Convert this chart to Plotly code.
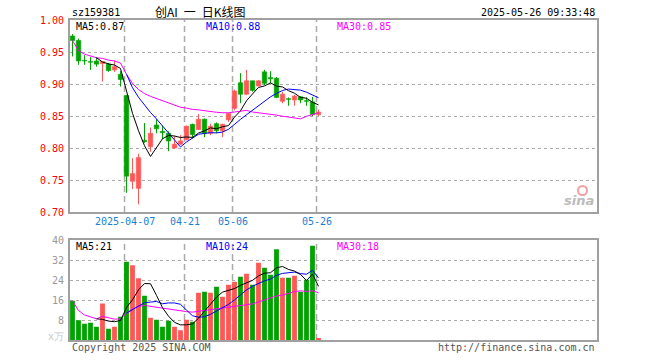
import plotly.graph_objects as go

# ---------------- data ----------------
dates = ["03-24", "03-25", "03-26", "03-27", "03-28", "03-31", "04-01", "04-02", "04-03",
         "04-07", "04-08", "04-09", "04-10", "04-11", "04-14", "04-15", "04-16", "04-17", "04-18",
         "04-21", "04-22", "04-23", "04-24", "04-25", "04-28", "04-29", "04-30",
         "05-06", "05-07", "05-08", "05-09", "05-12", "05-13", "05-14", "05-15", "05-16",
         "05-19", "05-20", "05-21", "05-22", "05-23", "05-26"]
opens = [0.975, 0.968, 0.937, 0.935, 0.936, 0.932, 0.931, 0.922, 0.915,
         0.882, 0.748, 0.737, 0.812, 0.802, 0.836, 0.826, 0.823, 0.800, 0.806,
         0.813, 0.837, 0.829, 0.845, 0.823, 0.838, 0.827, 0.844,
         0.862, 0.902, 0.884, 0.905, 0.897, 0.919, 0.910, 0.909, 0.873,
         0.877, 0.875, 0.880, 0.874, 0.872, 0.852]
highs = [0.978, 0.971, 0.945, 0.942, 0.942, 0.935, 0.933, 0.937, 0.920,
         0.883, 0.784, 0.791, 0.839, 0.832, 0.845, 0.835, 0.826, 0.819, 0.820,
         0.835, 0.838, 0.853, 0.846, 0.838, 0.840, 0.838, 0.855,
         0.891, 0.917, 0.922, 0.905, 0.906, 0.922, 0.920, 0.911, 0.888,
         0.879, 0.883, 0.881, 0.879, 0.880, 0.860]
lows = [0.943, 0.930, 0.930, 0.922, 0.927, 0.904, 0.919, 0.919, 0.896,
        0.730, 0.736, 0.712, 0.808, 0.794, 0.823, 0.814, 0.795, 0.799, 0.805,
        0.812, 0.815, 0.828, 0.817, 0.820, 0.823, 0.817, 0.841,
        0.859, 0.870, 0.883, 0.888, 0.896, 0.898, 0.901, 0.878, 0.870,
        0.866, 0.866, 0.870, 0.866, 0.850, 0.850]
closes = [0.968, 0.936, 0.936, 0.934, 0.931, 0.935, 0.921, 0.927, 0.907,
          0.756, 0.760, 0.785, 0.810, 0.823, 0.830, 0.824, 0.811, 0.806, 0.811,
          0.834, 0.821, 0.845, 0.823, 0.834, 0.827, 0.837, 0.854,
          0.889, 0.884, 0.905, 0.890, 0.905, 0.901, 0.908, 0.879, 0.884,
          0.876, 0.881, 0.875, 0.873, 0.852, 0.856]
volumes = [15.7, 7.9, 6.5, 6.9, 5.3, 14.6, 4.5, 5.3, 9.3,
           31.3, 29.9, 24.7, 17.7, 8.9, 8.1, 5.3, 7.7, 5.3, 3.9,
           8.1, 7.3, 18.9, 19.3, 18.9, 21.3, 17.3, 22.1,
           23.3, 25.3, 26.5, 22.1, 30.9, 28.9, 26.1, 36.3, 24.9,
           24.9, 25.7, 19.3, 24.1, 37.7, 0.5]
date_ticks = ["2025-04-07", "04-21", "05-06", "05-26"]
date_tick_days = ["04-07", "04-21", "05-06", "05-26"]
price_ticks = [1.00, 0.95, 0.90, 0.85, 0.80, 0.75, 0.70]
vol_ticks = [40, 32, 24, 16, 8]

RED = "#FF5656"
GREEN = "#00A300"
MA_COLORS = {5: "#000000", 10: "#0000FF", 30: "#FF00FF"}
MONO = "DejaVu Sans Mono"

n = len(dates)
xs = list(range(n))
up = [c >= o for o, c in zip(opens, closes)]


def moving_avg(vals, w, expanding=False):
    out = []
    for i in range(len(vals)):
        if i + 1 < w and not expanding:
            out.append(None)
        else:
            seg = vals[max(0, i - w + 1):i + 1]
            out.append(sum(seg) / len(seg))
    return out


fig = go.Figure()

# wicks
for is_up, col in ((True, RED), (False, GREEN)):
    wx, wy = [], []
    for i in xs:
        if up[i] == is_up:
            wx += [i, i, None]
            wy += [lows[i], highs[i], None]
    fig.add_trace(go.Scatter(x=wx, y=wy, mode="lines", line=dict(color=col, width=1),
                             hoverinfo="skip", showlegend=False, xaxis="x", yaxis="y"))

# bodies
for is_up, col in ((True, RED), (False, GREEN)):
    idx = [i for i in xs if up[i] == is_up]
    fig.add_trace(go.Bar(x=idx,
                         y=[max(abs(closes[i] - opens[i]), 0.0008) for i in idx],
                         base=[min(opens[i], closes[i]) for i in idx],
                         width=0.75, marker=dict(color=col, line=dict(color=col, width=0.6)),
                         hoverinfo="skip", showlegend=False, xaxis="x", yaxis="y"))

# price MAs
for w, expd in ((30, True), (10, False), (5, False)):
    fig.add_trace(go.Scatter(x=xs, y=moving_avg(closes, w, expd), mode="lines",
                             line=dict(color=MA_COLORS[w], width=1),
                             hoverinfo="skip", showlegend=False, xaxis="x", yaxis="y"))

# volume bars
for is_up, col in ((True, RED), (False, GREEN)):
    idx = [i for i in xs if up[i] == is_up]
    fig.add_trace(go.Bar(x=idx, y=[volumes[i] for i in idx], width=0.8,
                         marker=dict(color=col, line=dict(width=0)),
                         hoverinfo="skip", showlegend=False, xaxis="x2", yaxis="y2"))

# volume MAs
for w, expd in ((30, True), (10, False), (5, False)):
    fig.add_trace(go.Scatter(x=xs, y=moving_avg(volumes, w, expd), mode="lines",
                             line=dict(color=MA_COLORS[w], width=1),
                             hoverinfo="skip", showlegend=False, xaxis="x2", yaxis="y2"))

W, H = 660, 360
L, R = 70, 597
P_TOP, P_BOT = 20, 212
V_TOP, V_BOT = 240, 340
xr = [-2.5 / 6, (R - 72.5) / 6]
xdom = [L / W, R / W]
pdom = [1 - P_BOT / H, 1 - P_TOP / H]
vdom = [1 - V_BOT / H, 1 - V_TOP / H]

axis_common = dict(showline=True, mirror=True, linecolor="#A0A0A0", linewidth=1.5,
                   zeroline=False, ticks="", showticklabels=False)

fig.update_layout(
    width=W, height=H, margin=dict(l=0, r=0, t=0, b=0),
    paper_bgcolor="white", plot_bgcolor="white", barmode="overlay",
    xaxis=dict(domain=xdom, range=xr, showgrid=False, anchor="y", **axis_common),
    xaxis2=dict(domain=xdom, range=xr, showgrid=False, anchor="y2", **axis_common),
    yaxis=dict(domain=pdom, range=[0.70, 1.00], anchor="x", showgrid=True,
               tickvals=price_ticks[1:-1], gridcolor="#AAAAAA", griddash="dot", gridwidth=1,
               **axis_common),
    yaxis2=dict(domain=vdom, range=[0, 40], anchor="x2", showgrid=True,
                tickvals=vol_ticks[1:], gridcolor="#AAAAAA", griddash="dot", gridwidth=1,
                **axis_common),
)

# vertical dashed date lines
for d in date_tick_days:
    i = dates.index(d)
    for dom in (pdom, vdom):
        fig.add_shape(type="line", xref="x", yref="paper", x0=i - 0.33, x1=i - 0.33,
                      y0=dom[0], y1=dom[1], line=dict(color="#AAAAAA", width=1.5, dash="6px,4px"),
                      layer="below")

ann = []
# date labels
for lab, d in zip(date_ticks, date_tick_days):
    i = dates.index(d)
    ann.append(dict(x=i - 0.33, xref="x", y=1 - 221 / H, yref="paper", text=lab,
                    showarrow=False, font=dict(family=MONO, size=10, color="#1A7FD4"),
                    xanchor="center", yanchor="middle"))
# price labels
for p in price_ticks:
    ann.append(dict(x=66 / W, xref="paper", y=p, yref="y", text=f"{p:.2f}", showarrow=False,
                    font=dict(family=MONO, size=10, color="#FF0000"), xanchor="right",
                    yanchor="middle"))
# volume labels
for v in vol_ticks:
    ann.append(dict(x=66 / W, xref="paper", y=v, yref="y2", text=str(v), showarrow=False,
                    font=dict(family=MONO, size=10, color="#999999"), xanchor="right",
                    yanchor="middle"))
ann.append(dict(x=66 / W, xref="paper", y=1 - 336 / H, yref="paper", text="x万", showarrow=False,
                font=dict(family=MONO, size=10, color="#C8C8C8"), xanchor="right", yanchor="middle"))

# header
ann.append(dict(x=L / W, xref="paper", y=1 - 13 / H, yref="paper", text="sz159381", showarrow=False,
                font=dict(family=MONO, size=10, color="#000000"), xanchor="left", yanchor="middle"))
ann.append(dict(x=200 / W, xref="paper", y=1 - 12 / H, yref="paper",
                text="创AI\u2002一\u2002日K线图",
                showarrow=False, font=dict(family="Noto Sans CJK SC", size=12, color="#000000"),
                xanchor="center", yanchor="middle"))
ann.append(dict(x=R / W, xref="paper", y=1 - 13 / H, yref="paper", text="2025-05-26 09:33:48",
                showarrow=False, font=dict(family=MONO, size=10, color="#000000"),
                xanchor="right", yanchor="middle"))

# MA legends
price_ma_text = ["MA5:0.87", "MA10:0.88", "MA30:0.85"]
vol_ma_text = ["MA5:21", "MA10:24", "MA30:18"]
for txt, xpx, w in zip(price_ma_text, (74, 204, 335), (5, 10, 30)):
    ann.append(dict(x=xpx / W, xref="paper", y=1 - 27 / H, yref="paper", text=txt, showarrow=False,
                    font=dict(family=MONO, size=10, color=MA_COLORS[w]), xanchor="left",
                    yanchor="middle"))
for txt, xpx, w in zip(vol_ma_text, (74, 204, 335), (5, 10, 30)):
    ann.append(dict(x=xpx / W, xref="paper", y=1 - 246 / H, yref="paper", text=txt, showarrow=False,
                    font=dict(family=MONO, size=10, color=MA_COLORS[w]), xanchor="left",
                    yanchor="middle"))

# footer
ann.append(dict(x=L / W, xref="paper", y=1 - 347 / H, yref="paper", text="Copyright 2025 SINA.COM",
                showarrow=False, font=dict(family=MONO, size=10, color="#555555"),
                xanchor="left", yanchor="middle"))
ann.append(dict(x=R / W, xref="paper", y=1 - 347 / H, yref="paper", text="http://finance.sina.com.cn",
                showarrow=False, font=dict(family=MONO, size=10, color="#555555"),
                xanchor="right", yanchor="middle"))

# sina watermark
ann.append(dict(x=596 / W, xref="paper", y=1 - 200 / H, yref="paper", text="<b><i>sina</i></b>",
                showarrow=False, font=dict(family="DejaVu Sans", size=13, color="#BBBBBB"),
                xanchor="right", yanchor="middle"))
fig.add_shape(type="circle", xref="paper", yref="paper", x0=578 / W, x1=587 / W,
              y0=1 - 195 / H, y1=1 - 186 / H, line=dict(color="#F2A0A0", width=2))

fig.update_layout(annotations=ann)
fig.write_html("out.html", config={"displayModeBar": False},
               post_script="document.body.style.margin='0px';document.body.style.padding='0px';")
